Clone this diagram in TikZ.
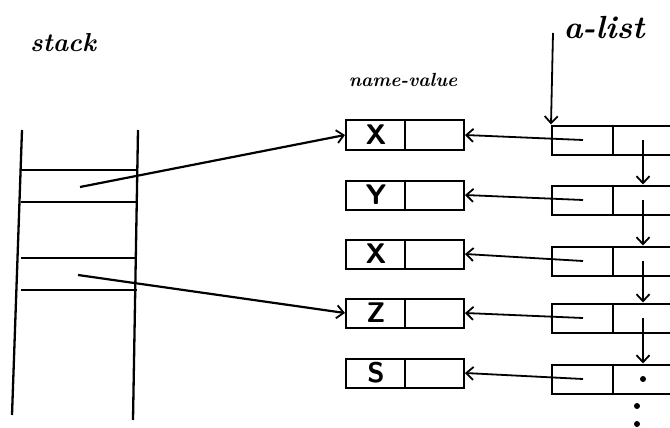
\documentclass[tikz,border=0pt]{standalone}
\usepackage{fontspec}
\usetikzlibrary{arrows.meta}
\begin{document}
\begin{tikzpicture}[x=1pt,y=-1pt,
  ln/.style={line width=2.3pt},
  nvbox/.style={draw,line width=2pt,minimum width=118pt,minimum height=29pt,inner sep=0pt},
  albox/.style={draw,line width=2pt,minimum width=122pt,minimum height=29pt,inner sep=0pt},
  ptr/.style={line width=1.8pt,-{Straight Barb[length=7pt,width=13pt,line width=1.8pt]}},
  letter/.style={font=\sffamily\bfseries\fontsize{21}{23}\selectfont,scale=1.35},
  hand/.style={font=\itshape\bfseries\fontsize{#1}{#1}\selectfont}]
\useasboundingbox (0,0) rectangle (670,428);

% labels
\node[hand=26] (lstack) at (63,43) {stack};
\node[hand=19] (lnv) at (403,80) {name-value};
\node[hand=32] (lal) at (604,28) {a-list};

% stack
\draw[ln] (22,130) -- (12,415);
\draw[ln] (138,130) -- (133,420);
\foreach \y in {170,202,258,290} \draw[ln] (21,\y) -- (137,\y);
\coordinate (s1) at (80,187);
\coordinate (s2) at (78,275);

% name-value boxes
\foreach \i/\y/\t in {1/135/X,2/195/Y,3/254/X,4/313/Z,5/373/S}{
  \node[nvbox] (nv\i) at (405,\y) {};
  \draw[line width=2pt] (nv\i.north) -- (nv\i.south);
  \node[letter] (t\i) at ([xshift=-29pt]nv\i.center) {\t};
}

% a-list cells
\foreach \i/\y in {1/140,2/200,3/261,4/318,5/379}{
  \node[albox] (a\i) at (613,\y) {};
  \draw[line width=2pt] (a\i.north) -- (a\i.south);
  \draw[ptr] ([xshift=-30pt]a\i.center) -- (nv\i.east);
}
\foreach \i/\j in {1/2,2/3,3/4,4/5}
  \draw[ptr] ([xshift=30pt]a\i.center) -- ([xshift=30pt]a\j.north);
\fill ([xshift=30pt]a5.center) circle (3pt);
\fill (637,406) circle (3pt);
\fill (637,424) circle (3pt);

% a-list pointer
\coordinate (alp) at (553,33);
\draw[ptr] (alp) -- (a1.north west);

% stack pointers
\draw[ptr,line width=2.2pt] (s1) -- (nv1.west);
\draw[ptr,line width=2.2pt] (s2) -- (nv4.west);
\end{tikzpicture}
\end{document}
